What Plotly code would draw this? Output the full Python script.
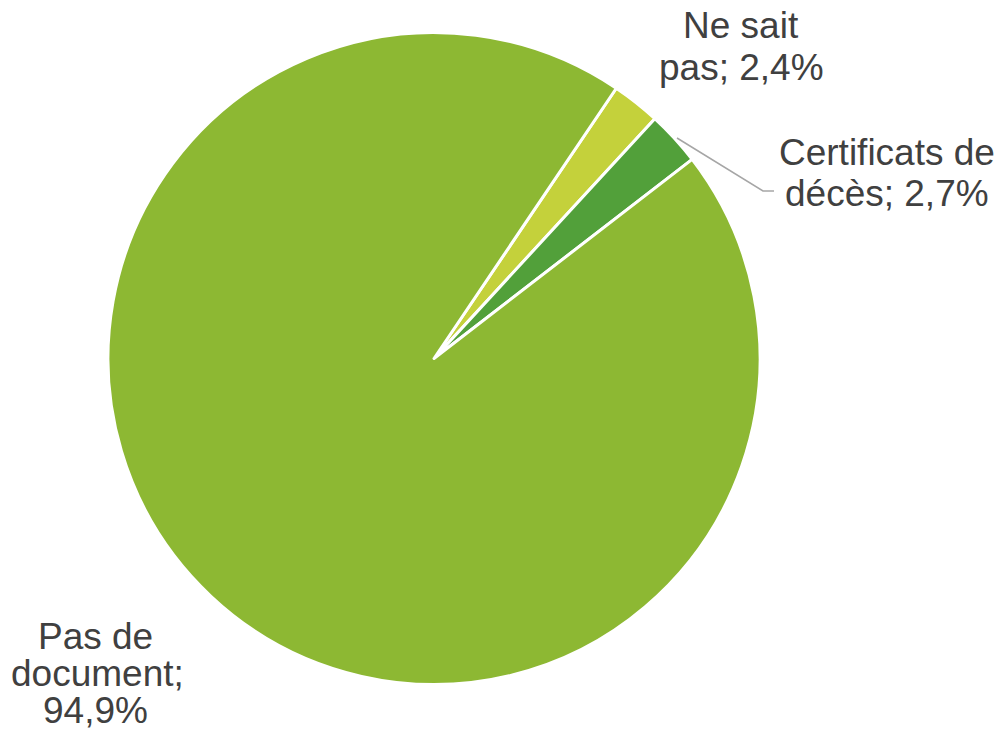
import plotly.graph_objects as go

labels = ["Ne sait pas", "Certificats de décès", "Pas de document"]
values = [2.4, 2.7, 94.9]
colors = ["#C4D13B", "#52A03A", "#8DB833"]
label_lines = [["Ne sait", "pas; 2,4%"], ["Certificats de", "décès; 2,7%"], ["Pas de", "document;", "94,9%"]]

OFF = 8  # default page body margin
W, H = 1005 - OFF, 737 - OFF


def px(x):
    return (x - OFF) / W


def py(y):
    return 1 - (y - OFF) / H


fig = go.Figure(go.Pie(
    labels=labels, values=values, sort=False, direction="clockwise", rotation=34,
    marker=dict(colors=colors, line=dict(color="white", width=3)),
    textinfo="none", hoverinfo="label+percent", showlegend=False,
    domain=dict(x=[px(108), px(760)], y=[py(685), py(32)]),
))

# label positions (pixel centres of each text line)
line_pos = [
    [(741, 25), (741, 67)],
    [(887, 153), (887, 194)],
    [(95, 636), (97, 673), (95, 710)],
]
for lines, poss in zip(label_lines, line_pos):
    for txt, (x, y) in zip(lines, poss):
        fig.add_annotation(x=px(x), y=py(y), xref="paper", yref="paper",
                           text=txt, showarrow=False, xanchor="center", yanchor="middle",
                           font=dict(family="Liberation Sans, Arial", size=37, color="#404040"))

# leader line for "Certificats de décès"
fig.add_shape(type="path", xref="paper", yref="paper",
              path=f"M {px(677)},{py(138)} L {px(763)},{py(191)} L {px(774)},{py(191)}",
              line=dict(color="#A6A6A6", width=1.5))

fig.update_layout(width=W, height=H, margin=dict(l=0, r=0, t=0, b=0),
                  paper_bgcolor="white", plot_bgcolor="white")
fig.write_html("out.html")
